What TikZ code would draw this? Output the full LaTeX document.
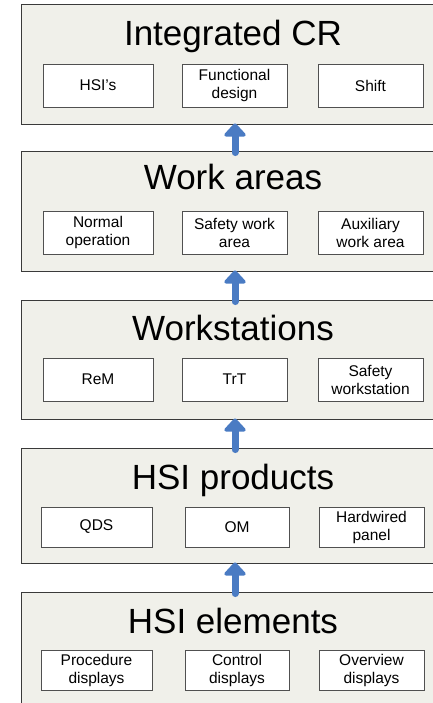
\documentclass[tikz,border=0pt]{standalone}
\usepackage{fontspec}
\setmainfont{Liberation Sans}
\usetikzlibrary{arrows.meta}
\definecolor{panelfill}{HTML}{F0F0EA}
\definecolor{panelline}{HTML}{3A3A3A}
\definecolor{boxline}{HTML}{505050}
\definecolor{flowblue}{HTML}{4A7BC3}
\tikzset{
  panel/.style={draw=panelline, line width=0.9pt, fill=panelfill, minimum width=428pt, inner sep=0pt},
  ptitle/.style={anchor=base, inner sep=0pt, font=\fontsize{35}{40}\selectfont},
  item/.style={draw=boxline, line width=0.9pt, fill=white, inner sep=0pt, align=center,
               font=\fontsize{15.5}{18}\selectfont},
  upflow/.style={draw=flowblue, line width=7pt, line cap=round,
                 -{Triangle[width=25pt,length=14pt,round=false]}}
}
\begin{document}
\begin{tikzpicture}[x=1pt,y=1pt]
\useasboundingbox (0,0) rectangle (432,-703);

% level panels
\node[panel, minimum height=120pt] (p1) at (235,-64) {};
\node[panel, minimum height=120pt] (p2) at (235,-211) {};
\node[panel, minimum height=119pt] (p3) at (235,-359.5) {};
\node[panel, minimum height=115pt] (p4) at (235,-505.5) {};
\node[panel, minimum height=128pt] (p5) at (235,-656) {};

% panel headings
\node[ptitle] (t1) at (233,-46) {Integrated CR};
\node[ptitle] (t2) at (233,-190) {Work areas};
\node[ptitle] (t3) at (233,-340) {Workstations};
\node[ptitle] (t4) at (233,-489) {HSI products};
\node[ptitle] (t5) at (233,-633) {HSI elements};

% Integrated CR
\node[item, minimum width=110pt, minimum height=43pt] (a1) at (98,-85.5) {HSI’s};
\node[item, minimum width=105pt, minimum height=43pt] (a2) at (234.5,-85.5) {Functional\\design};
\node[item, minimum width=105pt, minimum height=43pt] (a3) at (370.5,-85.5) {Shift};

% Work areas
\node[item, minimum width=110pt, minimum height=43pt] (b1) at (98,-232.5) {Normal\\operation};
\node[item, minimum width=105pt, minimum height=43pt] (b2) at (234.5,-232.5) {Safety work\\area};
\node[item, minimum width=105pt, minimum height=43pt] (b3) at (370.5,-232.5) {Auxiliary\\work area};

% Workstations
\node[item, minimum width=110pt, minimum height=43pt] (c1) at (98,-379.5) {ReM};
\node[item, minimum width=105pt, minimum height=43pt] (c2) at (234.5,-379.5) {TrT};
\node[item, minimum width=105pt, minimum height=43pt] (c3) at (370.5,-379.5) {Safety\\workstation};

% HSI products
\node[item, minimum width=111pt, minimum height=40pt] (d1) at (96.5,-527) {QDS};
\node[item, minimum width=104pt, minimum height=40pt] (d2) at (237,-527) {OM};
\node[item, minimum width=105pt, minimum height=40pt] (d3) at (371.5,-527) {Hardwired\\panel};

% HSI elements
\node[item, minimum width=111pt, minimum height=40pt] (e1) at (96.5,-670) {Procedure\\displays};
\node[item, minimum width=104pt, minimum height=40pt] (e2) at (237,-670) {Control\\displays};
\node[item, minimum width=105pt, minimum height=40pt] (e3) at (371.5,-670) {Overview\\displays};

% upward flow between levels
\draw[upflow] ([yshift=-2pt]p2.north) -- ([yshift=1pt]p1.south);
\draw[upflow] ([yshift=-2pt]p3.north) -- ([yshift=1pt]p2.south);
\draw[upflow] ([yshift=-2pt]p4.north) -- ([yshift=1pt]p3.south);
\draw[upflow] ([yshift=-2pt]p5.north) -- ([yshift=1pt]p4.south);
\end{tikzpicture}
\end{document}
